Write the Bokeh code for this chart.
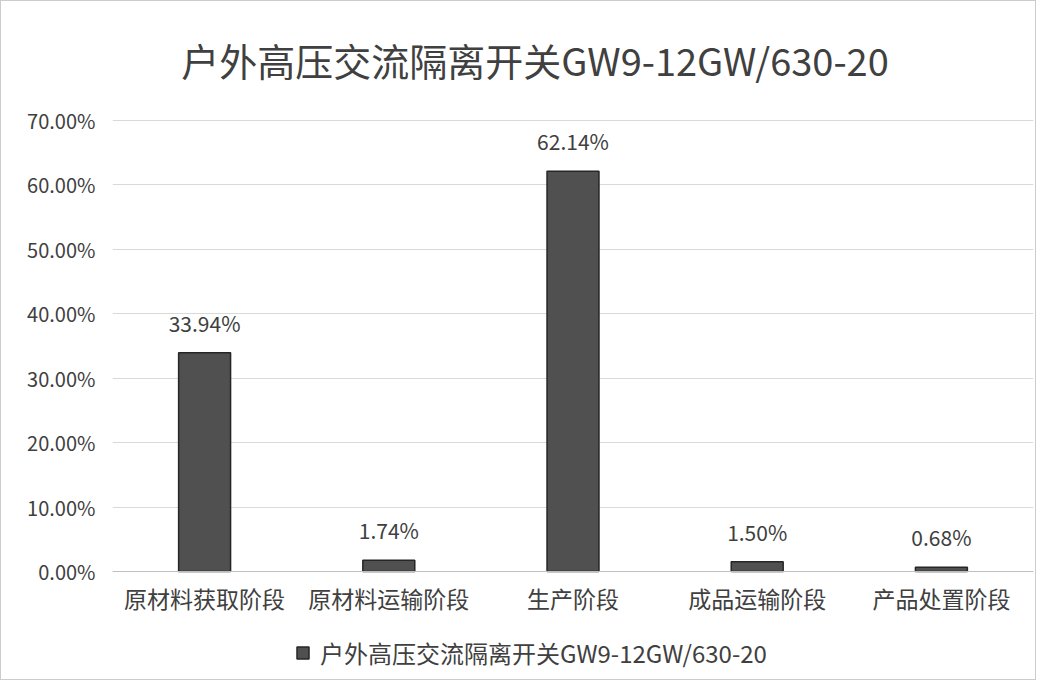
from bokeh.plotting import figure
from bokeh.models import ColumnDataSource, Legend, LegendItem, FixedTicker, Range1d, Span
from bokeh.core.properties import value
from bokeh.embed import file_html
from bokeh.resources import INLINE

categories = ["原材料获取阶段", "原材料运输阶段", "生产阶段", "成品运输阶段", "产品处置阶段"]
values = [33.94, 1.74, 62.14, 1.50, 0.68]
series_name = "户外高压交流隔离开关GW9-12GW/630-20"
chart_title = "户外高压交流隔离开关GW9-12GW/630-20"
y_ticks = [0, 10, 20, 30, 40, 50, 60, 70]

labels = ["%.2f%%" % v for v in values]
src = ColumnDataSource(dict(cat=categories, val=values, lab=labels, zero=[0] * len(values)))
title_src = ColumnDataSource(dict(x=[categories[2]], y=[y_ticks[-1]], t=[chart_title]))

FONT = "Noto Sans CJK SC"
TXT = "#404040"

# frame spans the whole chart height; ticks/grid only cover 0..70
p = figure(x_range=categories, y_range=Range1d(-17.07, 88.47), width=1036, height=680,
           output_backend="svg", toolbar_location=None,
           min_border_left=111, min_border_right=4, min_border_top=0, min_border_bottom=0)

r = p.vbar(x="cat", top="val", width=0.282, source=src, fill_color="#505050",
           line_color="#262626", line_width=1.5)
p.text(x="cat", y="val", text="lab", source=src, text_align="center", text_baseline="middle",
       y_offset=-30, text_font=value(FONT), text_font_size="21px", text_color=TXT)
# category labels under the zero line
p.text(x="cat", y="zero", text="cat", source=src, text_align="center", text_baseline="middle",
       y_offset=26, text_font=value(FONT), text_font_size="23px", text_color=TXT)
# chart title
p.text(x="x", y="y", text="t", source=title_src, text_align="center", text_baseline="middle",
       x_offset=-38, y_offset=-61, text_font=value(FONT), text_font_size="38px", text_color=TXT)

p.add_layout(Span(location=0, dimension="width", line_color="#bfbfbf", line_width=1))

p.yaxis.ticker = FixedTicker(ticks=y_ticks)
p.yaxis.major_label_overrides = {t: "%.2f%%" % t for t in y_ticks}
p.yaxis.axis_line_color = None
p.yaxis.major_tick_line_color = None
p.yaxis.minor_tick_line_color = None
p.yaxis.major_label_text_font = FONT
p.yaxis.major_label_text_font_size = "20px"
p.yaxis.major_label_text_color = TXT
p.yaxis.major_label_standoff = 11

p.xaxis.visible = False
p.xgrid.grid_line_color = None
p.ygrid.grid_line_color = "#d9d9d9"
p.outline_line_color = None

legend = Legend(items=[LegendItem(label=series_name, renderers=[r])], orientation="horizontal",
                location=(183, 11), label_text_font=FONT, label_text_font_size="24px",
                label_text_color=TXT, border_line_color=None, background_fill_alpha=0,
                glyph_width=15, glyph_height=15, margin=0, padding=4, label_standoff=10)
p.add_layout(legend)

p.styles = {"border": "1px solid #cccccc"}

open("out.html", "w").write(file_html(p, INLINE))
